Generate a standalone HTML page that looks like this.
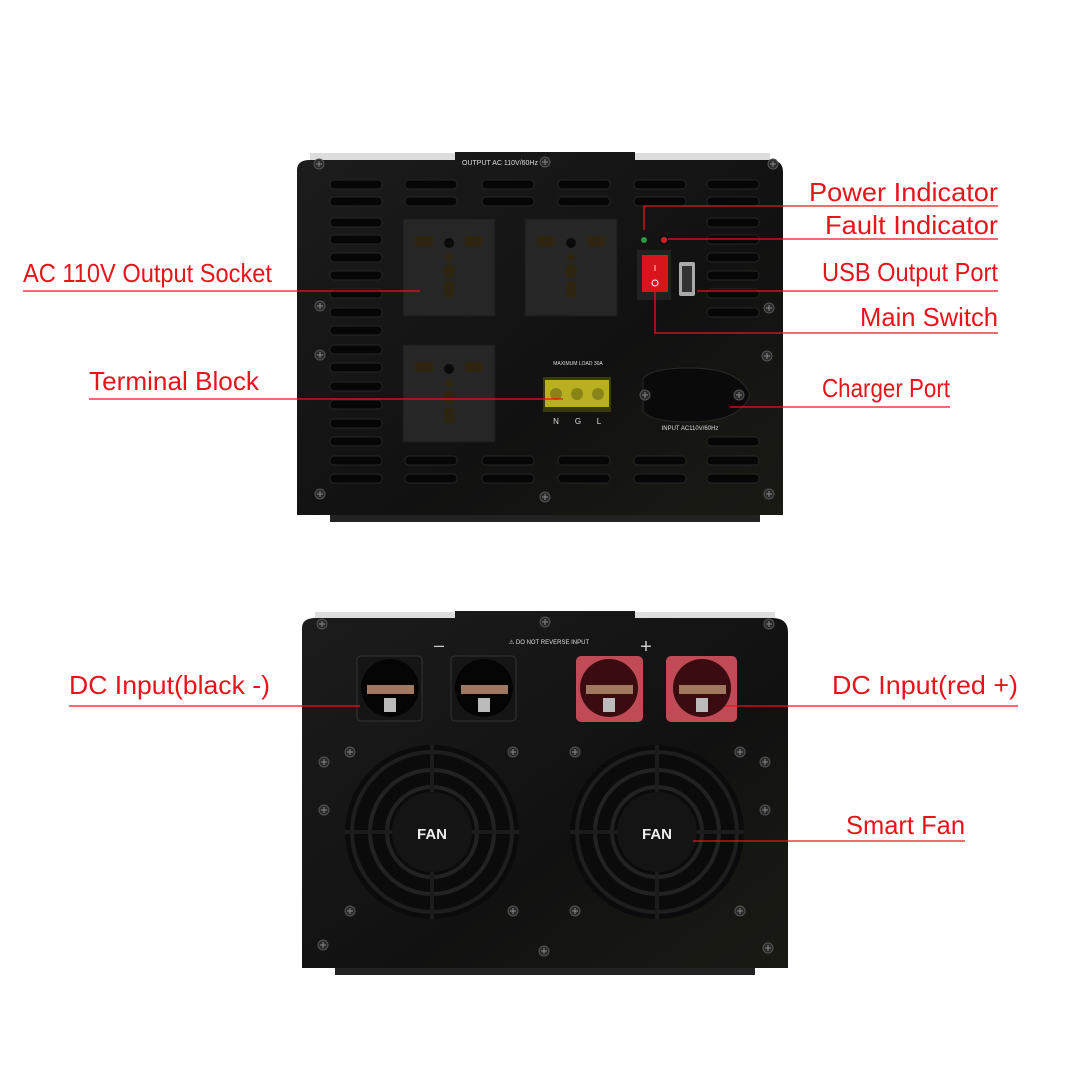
<!DOCTYPE html>
<html><head><meta charset="utf-8"><style>
html,body{margin:0;padding:0;background:#fff}
svg{display:block}
text.l{font-family:"Liberation Sans",sans-serif;font-size:26px;fill:#e8141b}
text.s{font-family:"Liberation Sans",sans-serif;fill:#ddd}
</style></head><body>
<svg width="1080" height="1080" viewBox="0 0 1080 1080" xmlns="http://www.w3.org/2000/svg">
<defs>
<linearGradient id="body" x1="0" y1="0" x2="1" y2="1"><stop offset="0" stop-color="#1c1c1c"/><stop offset="0.6" stop-color="#111"/><stop offset="1" stop-color="#1a1a14"/></linearGradient>
<g id="slot"><rect x="0" y="0" width="52" height="9" rx="4" fill="#060606" stroke="#262626" stroke-width="1"/></g>
<g id="screw"><circle r="5" fill="#2a2a2a" stroke="#555" stroke-width="1"/><path d="M-3 0H3M0 -3V3" stroke="#888" stroke-width="1"/></g>
<g id="sock"><rect x="0" y="0" width="92" height="97" fill="#262626" stroke="#1a1a1a"/>
<rect x="12" y="17" width="18" height="10" fill="#2e2510"/><rect x="62" y="17" width="18" height="10" fill="#2e2510"/>
<circle cx="46" cy="24" r="5" fill="#0a0a0a"/><circle cx="46" cy="38" r="4" fill="#2e2510"/>
<ellipse cx="46" cy="52" rx="6" ry="7" fill="#2e2510"/><rect x="41" y="62" width="10" height="16" rx="3" fill="#2e2510"/></g>
<g id="fan"><circle r="87" fill="#0b0b0b"/>
<circle r="80" fill="none" stroke="#1e1e1e" stroke-width="4"/><circle r="62" fill="none" stroke="#222" stroke-width="4"/><circle r="45" fill="none" stroke="#222" stroke-width="4"/>
<circle r="40" fill="#141414"/>
<path d="M0 -87V-40M0 40V87M-87 0H-40M40 0H87" stroke="#1c1c1c" stroke-width="4"/>
<text x="0" y="7" text-anchor="middle" font-family="Liberation Sans,sans-serif" font-weight="bold" font-size="15" fill="#eee">FAN</text></g>
</defs>

<!-- TOP UNIT -->
<rect x="310" y="153" width="460" height="8" fill="#ddd"/>
<path d="M297 170 Q297 160 310 160 L455 160 L455 152 L635 152 L635 160 L770 160 Q783 160 783 172 L783 515 L297 515 Z" fill="url(#body)"/>
<rect x="330" y="515" width="430" height="7" fill="#222"/>
<text x="500" y="165" class="s" font-size="7" text-anchor="middle">OUTPUT AC 110V/60Hz</text>
<g>
<use href="#slot" x="330" y="180"/><use href="#slot" x="330" y="197"/><use href="#slot" x="330" y="218"/><use href="#slot" x="330" y="235"/><use href="#slot" x="330" y="253"/><use href="#slot" x="330" y="271"/><use href="#slot" x="330" y="289"/><use href="#slot" x="330" y="308"/><use href="#slot" x="330" y="326"/><use href="#slot" x="330" y="345"/><use href="#slot" x="330" y="363"/><use href="#slot" x="330" y="382"/><use href="#slot" x="330" y="400"/><use href="#slot" x="330" y="419"/><use href="#slot" x="330" y="437"/><use href="#slot" x="330" y="456"/><use href="#slot" x="330" y="474"/>
<use href="#slot" x="707" y="180"/><use href="#slot" x="707" y="197"/><use href="#slot" x="707" y="218"/><use href="#slot" x="707" y="235"/><use href="#slot" x="707" y="253"/><use href="#slot" x="707" y="271"/><use href="#slot" x="707" y="289"/><use href="#slot" x="707" y="308"/><use href="#slot" x="707" y="437"/><use href="#slot" x="707" y="456"/><use href="#slot" x="707" y="474"/>
<use href="#slot" x="405" y="180"/><use href="#slot" x="482" y="180"/><use href="#slot" x="558" y="180"/><use href="#slot" x="634" y="180"/>
<use href="#slot" x="405" y="197"/><use href="#slot" x="482" y="197"/><use href="#slot" x="558" y="197"/><use href="#slot" x="634" y="197"/>
<use href="#slot" x="405" y="456"/><use href="#slot" x="482" y="456"/><use href="#slot" x="558" y="456"/><use href="#slot" x="634" y="456"/>
<use href="#slot" x="405" y="474"/><use href="#slot" x="482" y="474"/><use href="#slot" x="558" y="474"/><use href="#slot" x="634" y="474"/>
</g>
<use href="#screw" x="319" y="164"/><use href="#screw" x="773" y="164"/><use href="#screw" x="545" y="162"/><use href="#screw" x="320" y="306"/><use href="#screw" x="320" y="355"/><use href="#screw" x="320" y="494"/><use href="#screw" x="545" y="497"/><use href="#screw" x="769" y="494"/><use href="#screw" x="769" y="308"/><use href="#screw" x="767" y="356"/>
<use href="#sock" x="403" y="219"/><use href="#sock" x="525" y="219"/><use href="#sock" x="403" y="345"/>
<text x="578" y="365" class="s" font-size="5" text-anchor="middle">MAXIMUM LOAD 30A</text>
<rect x="543" y="377" width="68" height="35" fill="#3a3a10"/><rect x="545" y="380" width="64" height="27" fill="#b8b020"/>
<circle cx="556" cy="394" r="6" fill="#8a8418"/><circle cx="577" cy="394" r="6" fill="#8a8418"/><circle cx="598" cy="394" r="6" fill="#8a8418"/>
<text x="556" y="424" class="s" font-size="8" text-anchor="middle">N</text><text x="578" y="424" class="s" font-size="8" text-anchor="middle">G</text><text x="599" y="424" class="s" font-size="8" text-anchor="middle">L</text>
<circle cx="644" cy="240" r="3" fill="#2c9a3a"/><circle cx="664" cy="240" r="3" fill="#d02020"/>
<rect x="637" y="250" width="34" height="50" fill="#222"/><rect x="642" y="255" width="26" height="37" fill="#d8141c"/>
<text x="655" y="271" font-size="8" fill="#fff" text-anchor="middle" font-family="Liberation Sans">I</text><circle cx="655" cy="283" r="3" fill="none" stroke="#fff"/>
<rect x="679" y="262" width="16" height="34" rx="2" fill="#aaa"/><rect x="682" y="266" width="10" height="26" fill="#333"/>
<path d="M643 379 Q650 368 690 368 Q740 368 750 395 Q740 422 690 422 Q650 422 643 411 Z" fill="#0a0a0a" stroke="#2a2a2a"/>
<use href="#screw" x="645" y="395"/><use href="#screw" x="739" y="395"/>
<text x="690" y="430" class="s" font-size="6" text-anchor="middle">INPUT  AC110V/60Hz</text>

<!-- BOTTOM UNIT -->
<rect x="315" y="612" width="460" height="8" fill="#ddd"/>
<path d="M302 628 Q302 618 316 618 L455 618 L455 611 L635 611 L635 618 L772 618 Q788 618 788 632 L788 968 L302 968 Z" fill="url(#body)"/>
<rect x="335" y="968" width="420" height="7" fill="#222"/>
<use href="#screw" x="322" y="624"/><use href="#screw" x="769" y="624"/><use href="#screw" x="545" y="622"/><use href="#screw" x="323" y="945"/><use href="#screw" x="768" y="948"/><use href="#screw" x="544" y="951"/>
<use href="#screw" x="350" y="752"/><use href="#screw" x="513" y="752"/><use href="#screw" x="575" y="752"/><use href="#screw" x="740" y="752"/><use href="#screw" x="350" y="911"/><use href="#screw" x="513" y="911"/><use href="#screw" x="575" y="911"/><use href="#screw" x="740" y="911"/>
<use href="#screw" x="324" y="762"/><use href="#screw" x="324" y="810"/><use href="#screw" x="765" y="762"/><use href="#screw" x="765" y="810"/>
<text x="439" y="651" fill="#ccc" font-size="18" text-anchor="middle" font-family="Liberation Sans">–</text>
<text x="646" y="653" fill="#ccc" font-size="20" text-anchor="middle" font-family="Liberation Sans">+</text>
<text x="549" y="644" class="s" font-size="6" text-anchor="middle">⚠ DO NOT REVERSE INPUT</text>
<g>
<rect x="357" y="656" width="65" height="65" rx="4" fill="#151515" stroke="#333"/><circle cx="390" cy="688" r="29" fill="#050505"/>
<rect x="451" y="656" width="65" height="65" rx="4" fill="#151515" stroke="#333"/><circle cx="484" cy="688" r="29" fill="#050505"/>
<rect x="576" y="656" width="67" height="66" rx="5" fill="#c04a55"/><circle cx="609" cy="688" r="29" fill="#3a0c10"/>
<rect x="666" y="656" width="71" height="66" rx="5" fill="#c04a55"/><circle cx="702" cy="688" r="29" fill="#3a0c10"/>
<rect x="367" y="685" width="47" height="9" fill="#a07860"/><rect x="461" y="685" width="47" height="9" fill="#a07860"/><rect x="586" y="685" width="47" height="9" fill="#a07860"/><rect x="679" y="685" width="47" height="9" fill="#a07860"/>
<rect x="384" y="698" width="12" height="14" fill="#bbb"/><rect x="478" y="698" width="12" height="14" fill="#bbb"/><rect x="603" y="698" width="12" height="14" fill="#bbb"/><rect x="696" y="698" width="12" height="14" fill="#bbb"/>
</g>
<use href="#fan" x="432" y="832"/><use href="#fan" x="657" y="832"/>

<!-- LEADER LINES -->
<g stroke="#e8141b" stroke-width="1.3" fill="none">
<path d="M644 230V206H998"/>
<path d="M668 239H998"/>
<path d="M697 291H998"/>
<path d="M655 292V333H998"/>
<path d="M730 407H950"/>
<path d="M23 291H420"/>
<path d="M89 399H563"/>
<path d="M69 706H360"/>
<path d="M725 706H1018"/>
<path d="M693 841H965"/>
</g>
<text class="l" x="998" y="201" text-anchor="end" textLength="189" lengthAdjust="spacingAndGlyphs">Power Indicator</text>
<text class="l" x="998" y="234" text-anchor="end" textLength="173" lengthAdjust="spacingAndGlyphs">Fault Indicator</text>
<text class="l" x="998" y="281" text-anchor="end" textLength="176" lengthAdjust="spacingAndGlyphs">USB Output Port</text>
<text class="l" x="998" y="326" text-anchor="end" textLength="138" lengthAdjust="spacingAndGlyphs">Main Switch</text>
<text class="l" x="950" y="397" text-anchor="end" textLength="128" lengthAdjust="spacingAndGlyphs">Charger Port</text>
<text class="l" x="23" y="282" textLength="249" lengthAdjust="spacingAndGlyphs">AC 110V Output Socket</text>
<text class="l" x="89" y="390" textLength="170" lengthAdjust="spacingAndGlyphs">Terminal Block</text>
<text class="l" x="69" y="694" textLength="201" lengthAdjust="spacingAndGlyphs">DC Input(black -)</text>
<text class="l" x="1018" y="694" text-anchor="end" textLength="186" lengthAdjust="spacingAndGlyphs">DC Input(red +)</text>
<text class="l" x="965" y="834" text-anchor="end" textLength="119" lengthAdjust="spacingAndGlyphs">Smart Fan</text>
</svg>
</body></html>
